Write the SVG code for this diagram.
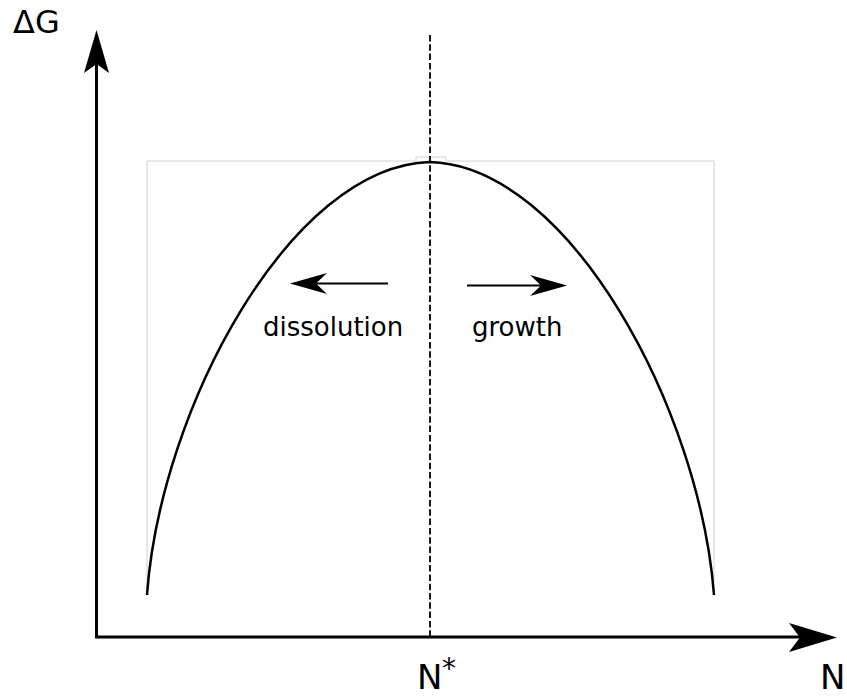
<svg xmlns="http://www.w3.org/2000/svg" width="847" height="696" viewBox="0 0 847 696">
<style>
.txt{font-family:"DejaVu Sans",Verdana,sans-serif;fill:#000}
.axis{stroke:#000;stroke-width:3;fill:none}
.arr{stroke:#000;stroke-width:2;fill:none}
.head{fill:#000;stroke:none}
</style>
<rect width="847" height="696" fill="#fff"/>
<g id="frame">
<path d="M147,595 V161 H416 V157 H446 V161 H714 V595" fill="none" stroke="#d0d0d0" stroke-width="1"/>
</g>
<g id="connectors">
<path class="axis" d="M96.5,637 V60"/>
<path class="head" d="M96.5,30 L109,73 L96.5,64 L84,73 Z"/>
<path class="axis" d="M95,637 H810"/>
<path class="head" d="M837,637.5 L789,623 L800,637.5 L789,652 Z"/>
<path d="M430,35 V637" stroke="#000" stroke-width="1.8" stroke-dasharray="6.5,2.8" fill="none"/>
<path class="arr" d="M388,283.5 H310"/>
<path class="head" d="M290,283.5 L327,273 L316,283.5 L327,294 Z"/>
<path class="arr" d="M467,285.5 H545"/>
<path class="head" d="M567,285.5 L530,275 L541,285.5 L530,296 Z"/>
</g>
<g id="curve">
<path d="M147,595 C160,410 290,166 430,162 C570,166 700,410 714,595" fill="none" stroke="#000" stroke-width="2.5"/>
</g>
<g id="labels">
<text class="txt" x="13" y="33" font-size="32">ΔG</text>
<text class="txt" x="263" y="336" font-size="26">dissolution</text>
<text class="txt" x="472" y="336" font-size="26">growth</text>
<text class="txt" x="417" y="689" font-size="34">N</text>
<text class="txt" x="442" y="678" font-size="28">*</text>
<text class="txt" x="820" y="689" font-size="34">N</text>
</g>
</svg>
